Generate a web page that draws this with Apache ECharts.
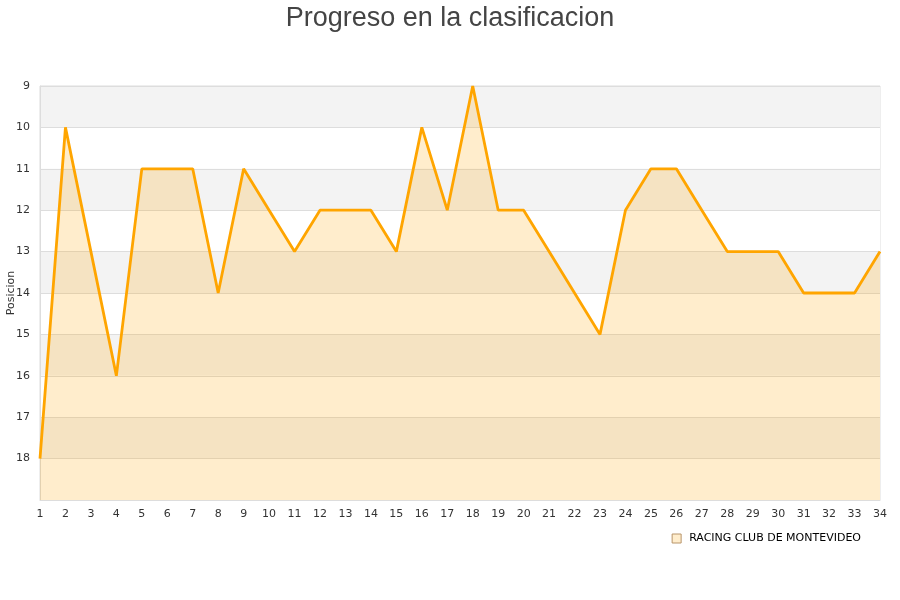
<!DOCTYPE html>
<html>
<head>
<meta charset="utf-8">
<script src="https://cdn.jsdelivr.net/npm/echarts@6/dist/echarts.min.js"></script>
<style>html,body{margin:0;padding:0;background:#fff}#c{width:900px;height:600px}</style>
</head>
<body>
<div id="c"></div>
<script>
const jornadas = ['1','2','3','4','5','6','7','8','9','10','11','12','13','14','15','16','17','18','19','20','21','22','23','24','25','26','27','28','29','30','31','32','33','34'];
const posiciones = [18,10,13,16,11,11,11,14,11,12,13,12,12,12,13,10,12,9,12,12,13,14,15,12,11,11,12,13,13,13,14,14,14,13];
const seriesName = 'RACING CLUB DE MONTEVIDEO';
const titleText = 'Progreso en la clasificacion';
const yAxisName = 'Posicion';

const chart = echarts.init(document.getElementById('c'), null, {renderer: 'canvas'});
chart.setOption({
  animation: false,
  backgroundColor: '#ffffff',
  title: {
    text: titleText, left: 'center', top: 0,
    textStyle: {fontFamily: 'Liberation Sans, Arial, sans-serif', fontSize: 27, fontWeight: 'normal', color: '#444444'}
  },
  grid: {left: 40, right: 20, top: 86, bottom: 100, show: true, borderColor: '#dddddd', borderWidth: 1,
    containLabel: false, outerBoundsMode: 'none'},
  legend: {
    data: [seriesName], right: 34, top: 528, itemWidth: 9, itemHeight: 9, itemGap: 9,
    icon: 'rect',
    textStyle: {fontFamily: 'DejaVu Sans, sans-serif', fontSize: 11, color: '#000000', padding: [0, 0, 0, 3]},
    itemStyle: {color: '#FFEDCC', borderColor: '#B8956A', borderWidth: 1}
  },
  xAxis: {
    type: 'category', data: jornadas, boundaryGap: false,
    axisLine: {show: true, lineStyle: {color: '#dddddd'}},
    axisTick: {show: false},
    axisLabel: {color: '#333333', fontSize: 11, fontFamily: 'DejaVu Sans, sans-serif', margin: 9, interval: 0},
    splitLine: {show: false}
  },
  yAxis: {
    type: 'value', inverse: true, min: 9, max: 19, interval: 1,
    name: yAxisName, nameLocation: 'middle', nameGap: 23, nameRotate: 90, nameMoveOverlap: false,
    nameTextStyle: {color: '#333333', fontSize: 11, fontFamily: 'DejaVu Sans, sans-serif'},
    axisLine: {show: true, lineStyle: {color: '#dddddd'}},
    axisTick: {show: false},
    axisLabel: {color: '#333333', fontSize: 11, fontFamily: 'DejaVu Sans, sans-serif', margin: 10,
      formatter: v => (v === 19 ? '' : String(v))},
    splitLine: {show: true, lineStyle: {color: '#dddddd', width: 1}},
    splitArea: {show: true, areaStyle: {color: ['#F3F3F3', '#FFFFFF']}}
  },
  series: [{
    name: seriesName, type: 'line', data: posiciones,
    symbol: 'none', showSymbol: false,
    lineStyle: {color: '#FFA500', width: 2.8},
    itemStyle: {color: '#FFEDCC', borderColor: '#B8956A'},
    areaStyle: {color: '#FFA500', opacity: 0.2, origin: 'end'}
  }]
});
</script>
</body>
</html>
